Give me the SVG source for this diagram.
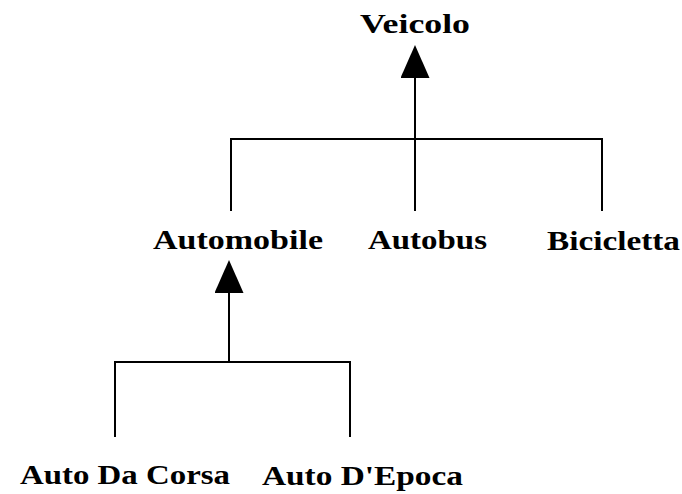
<svg xmlns="http://www.w3.org/2000/svg" width="682" height="494" viewBox="0 0 682 494">
<style>
.lbl{font-family:"Liberation Serif","Times New Roman",serif;font-weight:bold;font-size:28px;fill:#000}
.ln{stroke:#000;stroke-width:2;fill:none}
</style>
<defs>
<marker id="tri" markerUnits="userSpaceOnUse" markerWidth="34" markerHeight="30" refX="0" refY="14.5" orient="auto-start-reverse">
<path d="M0,0 L33,14.5 L0,29 Z" fill="#000"/>
</marker>
</defs>
<rect width="682" height="494" fill="#fff"/>
<g id="connectors">
<path class="ln" d="M415,78 V211" marker-start="url(#tri)"/>
<path class="ln" d="M231,211 V139 H602 V211"/>
<path class="ln" d="M229,293 V362" marker-start="url(#tri)"/>
<path class="ln" d="M115,437 V362 H350 V437"/>
</g>
<g id="veicolo"><text class="lbl" x="360" y="33" textLength="110" lengthAdjust="spacingAndGlyphs">Veicolo</text></g>
<g id="automobile"><text class="lbl" x="153" y="249" textLength="170" lengthAdjust="spacingAndGlyphs">Automobile</text></g>
<g id="autobus"><text class="lbl" x="368" y="249" textLength="119" lengthAdjust="spacingAndGlyphs">Autobus</text></g>
<g id="bicicletta"><text class="lbl" x="547" y="250" textLength="133" lengthAdjust="spacingAndGlyphs">Bicicletta</text></g>
<g id="auto-da-corsa"><text class="lbl" x="20" y="484" textLength="210" lengthAdjust="spacingAndGlyphs">Auto Da Corsa</text></g>
<g id="auto-depoca"><text class="lbl" x="262" y="485" textLength="201" lengthAdjust="spacingAndGlyphs">Auto D'Epoca</text></g>
</svg>
